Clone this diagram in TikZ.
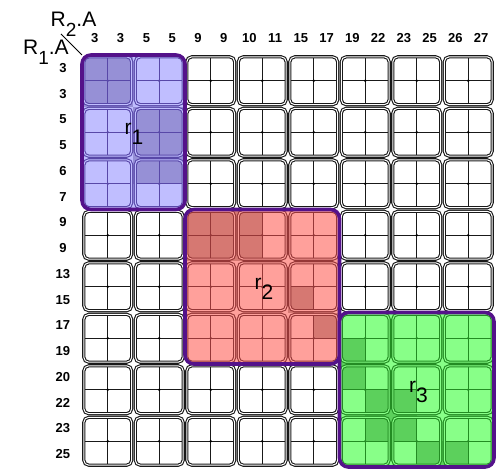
\documentclass[tikz,border=0pt]{standalone}
\usepackage{fontspec}
\setmainfont{Liberation Sans}

\definecolor{lila}{RGB}{192,190,255}
\definecolor{lilad}{RGB}{150,144,214}
\definecolor{lilal}{RGB}{88,72,168}
\definecolor{rosa}{RGB}{255,160,155}
\definecolor{rosad}{RGB}{214,120,114}
\definecolor{rosal}{RGB}{150,55,55}
\definecolor{gruen}{RGB}{136,255,136}
\definecolor{gruend}{RGB}{92,208,92}
\definecolor{gruenl}{RGB}{35,140,35}
\definecolor{edge}{RGB}{84,18,138}

\newcommand{\lowsub}[1]{\raisebox{-5pt}{#1}}

\tikzset{
  block/.style={rounded corners=2.5pt, line width=0.55pt, double distance=0.5pt},
  cross/.style={line width=0.45pt},
  joinbox/.style={draw=edge, line width=1.8pt, rounded corners=4.5pt},
  num/.style={font=\fontsize{6.5}{7}\selectfont\bfseries, inner sep=0pt},
  axis/.style={font=\fontsize{10.5}{11}\selectfont, inner sep=0pt},
  tag/.style={font=\fontsize{10.5}{11}\selectfont, inner sep=0pt}
}

\begin{document}
\begin{tikzpicture}[x=12.875pt,y=-12.875pt]
  \useasboundingbox (-3.184,-2.136) rectangle (16.117,16.155);
  % plain grid of 2x2 blocks
  \foreach \i in {0,2,...,14} \foreach \j in {0,2,...,14} {
    \draw[cross,black!90] (\i+1,\j+0.07) -- (\i+1,\j+1.93) (\i+0.07,\j+1) -- (\i+1.93,\j+1);
    \fill (\i+1,\j+1) circle (0.7pt);
    \draw[block,draw=black!90,double=white] (\i+0.07,\j+0.07) rectangle (\i+1.93,\j+1.93);
  }
  % region r_1
  \fill[lila,rounded corners=4.5pt] (0,0) rectangle (4,6);
  \begin{scope}
    \clip[rounded corners=4.5pt] (0,0) rectangle (4,6);
    \foreach \a/\b in {0/0,1/0,0/1,1/1,2/2,3/2,2/3,3/3,2/4,3/4}
      \fill[lilad] (\a,\b) rectangle +(1,1);
  \end{scope}
  \foreach \i in {0,2} \foreach \j in {0,2,4} {
    \draw[cross,lilal] (\i+1,\j+0.07) -- (\i+1,\j+1.93) (\i+0.07,\j+1) -- (\i+1.93,\j+1);
    \fill[lilal] (\i+1,\j+1) circle (0.7pt);
    \draw[block,draw=lilal,double=lila] (\i+0.07,\j+0.07) rectangle (\i+1.93,\j+1.93);
  }
  \draw[joinbox] (0,0) rectangle (4,6);
  \node[tag] (r1) at (2.02,3.07) {r\lowsub{1}};
  % region r_2
  \fill[rosa,rounded corners=4.5pt] (4,6) rectangle (10,12);
  \begin{scope}
    \clip[rounded corners=4.5pt] (4,6) rectangle (10,12);
    \foreach \a/\b in {4/6,5/6,6/6,4/7,5/7,6/7,8/9,9/10}
      \fill[rosad] (\a,\b) rectangle +(1,1);
  \end{scope}
  \foreach \i in {4,6,8} \foreach \j in {6,8,10} {
    \draw[cross,rosal] (\i+1,\j+0.07) -- (\i+1,\j+1.93) (\i+0.07,\j+1) -- (\i+1.93,\j+1);
    \fill[rosal] (\i+1,\j+1) circle (0.7pt);
    \draw[block,draw=rosal,double=rosa] (\i+0.07,\j+0.07) rectangle (\i+1.93,\j+1.93);
  }
  \draw[joinbox] (4,6) rectangle (10,12);
  \node[tag] (r2) at (7.07,9.09) {r\lowsub{2}};
  % region r_3
  \fill[gruen,rounded corners=4.5pt] (10,10) rectangle (16,16);
  \begin{scope}
    \clip[rounded corners=4.5pt] (10,10) rectangle (16,16);
    \foreach \a/\b in {10/11,10/12,11/13,12/13,11/14,12/14,13/15,14/15}
      \fill[gruend] (\a,\b) rectangle +(1,1);
  \end{scope}
  \foreach \i in {10,12,14} \foreach \j in {10,12,14} {
    \draw[cross,gruenl] (\i+1,\j+0.07) -- (\i+1,\j+1.93) (\i+0.07,\j+1) -- (\i+1.93,\j+1);
    \fill[gruenl] (\i+1,\j+1) circle (0.7pt);
    \draw[block,draw=gruenl,double=gruen] (\i+0.07,\j+0.07) rectangle (\i+1.93,\j+1.93);
  }
  \draw[joinbox] (10,10) rectangle (16,16);
  \node[tag] (r3) at (13.07,13.09) {r\lowsub{3}};
  % attribute values
  \foreach \v [count=\k from 0] in {3,3,5,5,9,9,10,11,15,17,19,22,23,25,26,27}
    \node[num] (colA-\k) at (\k+0.5,-0.66) {\v};
  \foreach \v [count=\k from 0] in {3,3,5,5,6,7,9,9,13,15,17,19,20,22,23,25}
    \node[num] (rowA-\k) at (-0.74,\k+0.5) {\v};
  % corner labels
  \coordinate (corner) at (0,0);
  \coordinate (tip) at (-0.82,-0.82);
  \draw[line width=0.4pt] (tip) -- (corner);
  \node[axis] (RtwoA) at (-0.33,-1.18) {R\lowsub{\fontsize{9.5}{9.5}\selectfont 2}.A};
  \node[axis] (RoneA) at (-1.40,-0.10) {R\lowsub{\fontsize{9.5}{9.5}\selectfont 1}.A};
\end{tikzpicture}
\end{document}
